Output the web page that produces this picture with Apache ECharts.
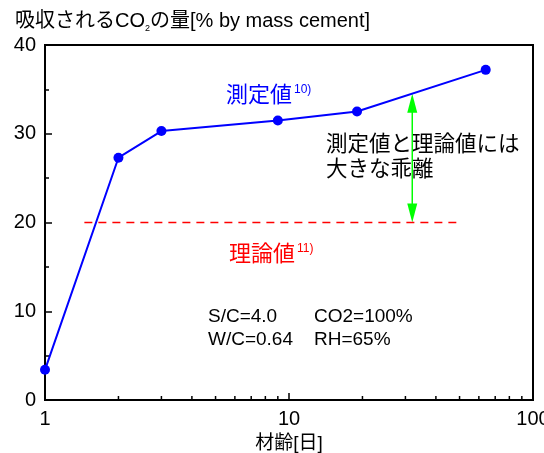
<!DOCTYPE html>
<html><head><meta charset="utf-8">
<script src="https://cdn.jsdelivr.net/npm/echarts@6/dist/echarts.min.js"></script>
<style>html,body{margin:0;padding:0;background:#fff}#c{width:544px;height:453px}</style>
</head><body><div id="c"></div>
<script>
const xDays = [1, 2, 3, 9, 19, 64];
const co2Measured = [3.4, 27.3, 30.3, 31.5, 32.5, 37.2];
const theoryRangeX = [1.45, 48.5];
const theoryValue = 20;
const gapX = 32;
const gapTopValue = 34.5;
const xMinorTicks = [2,3,4,5,6,7,8,9,20,30,40,50,60,70,80,90];
const yTicks = [0, 10, 20, 30, 40];

const FONT = "'Liberation Sans', 'Noto Sans CJK JP', sans-serif";
const chart = echarts.init(document.getElementById('c'), null, {renderer:'canvas'});
chart.setOption({
  animation: false,
  grid: {left:45, right:11, top:45, bottom:53, show:true, borderColor:'#000', borderWidth:2, outerBoundsMode:'none', containLabel:false},
  xAxis: {
    type:'log', logBase:10, min:1, max:100,
    name:'材齢[日]', nameLocation:'middle', nameGap:30,
    nameTextStyle:{fontFamily:FONT, fontSize:19, color:'#000'},
    axisLine:{lineStyle:{color:'#000', width:2}},
    axisTick:{inside:true, length:7, lineStyle:{color:'#000', width:1.5}},
    axisLabel:{fontFamily:FONT, fontSize:20, color:'#000', margin:9},
    splitLine:{show:false}
  },
  yAxis: {
    type:'value', min:yTicks[0], max:yTicks[yTicks.length-1], interval:10,
    axisLine:{show:true, lineStyle:{color:'#000', width:2}},
    axisTick:{show:true, inside:true, length:7, lineStyle:{color:'#000', width:1.5}},
    minorTick:{show:true, splitNumber:2, length:4, lineStyle:{color:'#000', width:1.5}},
    axisLabel:{fontFamily:FONT, fontSize:20, color:'#000', margin:9},
    splitLine:{show:false}
  },
  series: [
    {
      type:'custom', silent:true, clip:false,
      data: xMinorTicks.map(v => [v, 0]),
      renderItem: function(params, api){
        const p = api.coord([api.value(0), api.value(1)]);
        return {type:'line', shape:{x1:p[0], y1:p[1], x2:p[0], y2:p[1]-4}, style:{stroke:'#000', lineWidth:1.5}};
      }
    },
    {
      type:'line', silent:true,
      data: theoryRangeX.map(x => [x, theoryValue]),
      symbol:'none',
      lineStyle:{color:'#ff0000', width:1.5, type:[8,6]}
    },
    {
      type:'custom', silent:true, clip:false,
      data: [[gapX, gapTopValue, theoryValue]],
      renderItem: function(params, api){
        const t = api.coord([api.value(0), api.value(1)]);
        const b = api.coord([api.value(0), api.value(2)]);
        const w = 5, h = 19, c = '#00ff00';
        return {type:'group', children:[
          {type:'line', shape:{x1:t[0], y1:t[1]+h-1, x2:b[0], y2:b[1]-h+1}, style:{stroke:c, lineWidth:1.5}},
          {type:'polygon', shape:{points:[[t[0], t[1]], [t[0]-w, t[1]+h], [t[0]+w, t[1]+h]]}, style:{fill:c}},
          {type:'polygon', shape:{points:[[b[0], b[1]], [b[0]-w, b[1]-h], [b[0]+w, b[1]-h]]}, style:{fill:c}}
        ]};
      }
    },
    {
      type:'line', silent:true,
      data: xDays.map((x,i) => [x, co2Measured[i]]),
      symbol:'circle', symbolSize:10,
      itemStyle:{color:'#0000ff'},
      lineStyle:{color:'#0000ff', width:2}
    }
  ],
  graphic: [
    {type:'text', left:15, top:11, style:{
      text:'{a|吸収されるCO}{s|2}{a|の量[% by mass cement]}',
      rich:{a:{fontFamily:FONT, fontSize:20, fill:'#000'}, s:{fontFamily:FONT, fontSize:9, fill:'#000', padding:[15,0,0,0]}}
    }},
    {type:'text', left:226, top:84, style:{
      text:'{a|測定値}{s|10)}',
      rich:{a:{fontFamily:FONT, fontSize:22, fill:'#0000ff'}, s:{fontFamily:FONT, fontSize:12, fill:'#0000ff', padding:[0,0,12,2]}}
    }},
    {type:'text', left:229, top:243, style:{
      text:'{a|理論値}{s|11)}',
      rich:{a:{fontFamily:FONT, fontSize:22, fill:'#ff0000'}, s:{fontFamily:FONT, fontSize:12, fill:'#ff0000', padding:[0,0,12,2]}}
    }},
    {type:'text', left:326, top:133, style:{
      text:'測定値と理論値には\n大きな乖離', fontFamily:FONT, fontSize:21.5, lineHeight:25, fill:'#000'
    }},
    {type:'text', left:208, top:307, style:{text:'S/C=4.0', fontFamily:FONT, fontSize:19, fill:'#000'}},
    {type:'text', left:314, top:307, style:{text:'CO2=100%', fontFamily:FONT, fontSize:19, fill:'#000'}},
    {type:'text', left:208, top:330, style:{text:'W/C=0.64', fontFamily:FONT, fontSize:19, fill:'#000'}},
    {type:'text', left:314, top:330, style:{text:'RH=65%', fontFamily:FONT, fontSize:19, fill:'#000'}}
  ]
});
</script></body></html>
